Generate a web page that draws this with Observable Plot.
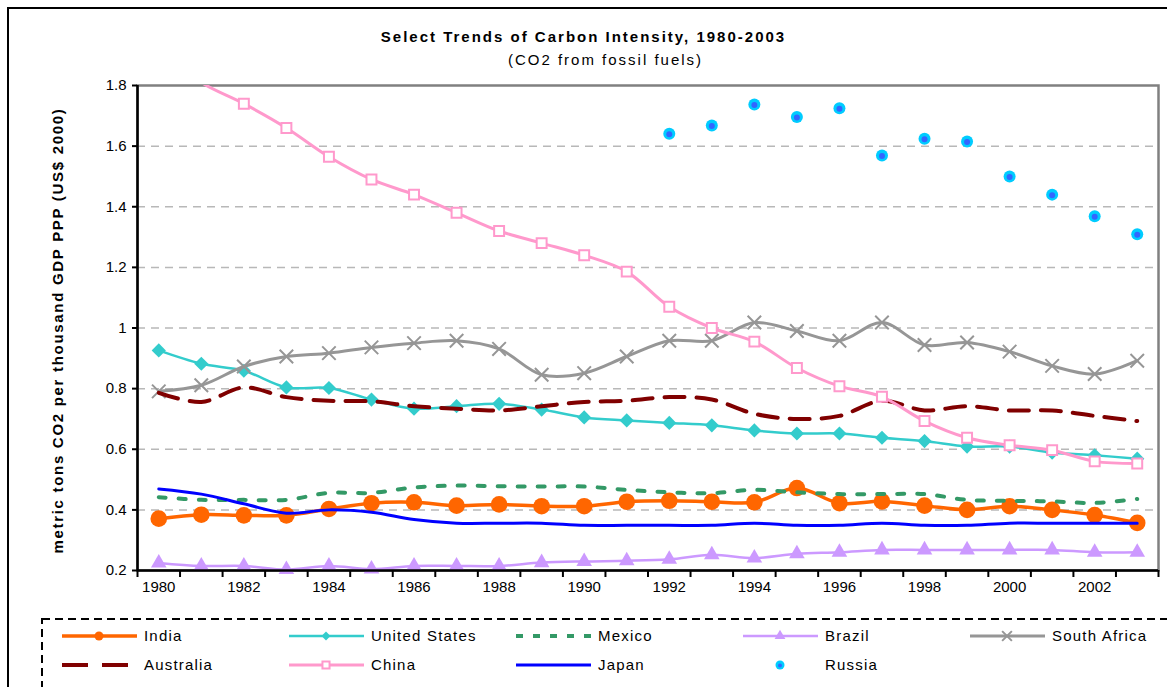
<!DOCTYPE html>
<html><head><meta charset="utf-8">
<script src="https://cdn.jsdelivr.net/npm/d3@7"></script>
<script src="https://cdn.jsdelivr.net/npm/@observablehq/plot@0.6"></script>
<style>
html,body{margin:0;padding:0;background:#fff;}
body{width:1167px;height:687px;overflow:hidden;position:relative;font-family:"Liberation Sans",Arial,sans-serif;color:#000;}
#frame{position:absolute;left:7px;top:7px;width:1300px;height:800px;border:2px solid #000;box-sizing:border-box;}
#title{position:absolute;left:0;width:1167px;top:28px;text-align:center;font-weight:bold;font-size:15px;letter-spacing:2px;}
#subtitle{position:absolute;left:22px;width:1167px;top:51px;text-align:center;font-size:15px;letter-spacing:2px;}
#ylabel{position:absolute;left:-193px;top:322px;width:500px;text-align:center;font-weight:bold;font-size:15px;letter-spacing:1.7px;transform:rotate(-90deg);transform-origin:center;}
#chart{position:absolute;left:0;top:0;}
#legend{position:absolute;left:0;top:600px;}
</style></head><body>
<div id="frame"></div>
<div id="title">Select Trends of Carbon Intensity, 1980-2003</div>
<div id="subtitle">(CO2 from fossil fuels)</div>
<div id="chart"></div>
<div id="ylabel">metric tons CO2 per thousand GDP PPP (US$ 2000)</div>
<div id="legend"></div>
<script>
// ---- data ----
const years = [1980,1981,1982,1983,1984,1985,1986,1987,1988,1989,1990,1991,1992,1993,1994,1995,1996,1997,1998,1999,2000,2001,2002,2003];
const india = [0.371,0.384,0.382,0.382,0.403,0.422,0.425,0.414,0.418,0.412,0.412,0.427,0.430,0.427,0.425,0.472,0.422,0.428,0.414,0.400,0.412,0.400,0.383,0.357];
const unitedStates = [0.926,0.882,0.859,0.804,0.802,0.764,0.734,0.742,0.750,0.731,0.705,0.695,0.687,0.679,0.662,0.652,0.652,0.638,0.627,0.609,0.609,0.589,0.580,0.569];
const mexico = [0.442,0.433,0.433,0.433,0.456,0.456,0.474,0.480,0.478,0.477,0.477,0.466,0.458,0.455,0.466,0.458,0.452,0.452,0.452,0.433,0.430,0.428,0.423,0.436];
const brazil = [0.225,0.215,0.215,0.203,0.215,0.205,0.215,0.215,0.215,0.226,0.230,0.232,0.237,0.252,0.241,0.255,0.260,0.268,0.268,0.268,0.268,0.268,0.260,0.260];
const southAfrica = [0.791,0.811,0.873,0.906,0.917,0.936,0.950,0.958,0.931,0.846,0.851,0.906,0.958,0.958,1.018,0.990,0.958,1.018,0.944,0.952,0.922,0.875,0.848,0.892];
const australia = [0.786,0.756,0.804,0.772,0.760,0.758,0.742,0.734,0.728,0.742,0.756,0.760,0.772,0.764,0.717,0.700,0.710,0.760,0.728,0.742,0.728,0.728,0.710,0.693];
const china = [1.92,1.81,1.74,1.66,1.565,1.49,1.44,1.38,1.32,1.28,1.24,1.186,1.07,1.00,0.955,0.868,0.808,0.773,0.693,0.638,0.613,0.597,0.560,0.553];
const japan = [0.469,0.452,0.420,0.389,0.400,0.392,0.368,0.356,0.356,0.356,0.349,0.349,0.349,0.349,0.356,0.349,0.349,0.356,0.349,0.349,0.356,0.356,0.356,0.356];
const russia = [null,null,null,null,null,null,null,null,null,null,null,null,1.641,1.668,1.737,1.696,1.725,1.569,1.624,1.615,1.500,1.440,1.369,1.309];

const seriesNames = ["India","United States","Mexico","Brazil","South Africa","Australia","China","Japan","Russia"];
const yTicks = [0.2,0.4,0.6,0.8,1.0,1.2,1.4,1.6,1.8];
const xTickLabels = [1980,1982,1984,1986,1988,1990,1992,1994,1996,1998,2000,2002];

// ---- styles ----
const valuesBy = {"India":india,"United States":unitedStates,"Mexico":mexico,"Brazil":brazil,"South Africa":southAfrica,"Australia":australia,"China":china,"Japan":japan,"Russia":russia};
const styles = {
  "India":        {stroke:"#FF6600", sw:3.5, symbol:"circle",   r:8.3, fill:"#FF6600", mstroke:"none", msw:0, lr:4.5},
  "United States":{stroke:"#33CCCC", sw:2.5, symbol:"diamond2", r:6.4, fill:"#33CCCC", mstroke:"none", msw:0, lr:4},
  "Mexico":       {stroke:"#339966", sw:4,   dash:"7,13"},
  "Brazil":       {stroke:"#CC99FF", sw:2.5, symbol:"triangle", r:5.8, fill:"#CC99FF", mstroke:"none", msw:0, lr:4},
  "South Africa": {stroke:"#969696", sw:3,   symbol:"times",    r:6.2, fill:"none",    mstroke:"#969696", msw:2, lr:4.5},
  "Australia":    {stroke:"#800000", sw:4,   dash:"20,12"},
  "China":        {stroke:"#FF99CC", sw:3,   symbol:"square",   r:5.6, fill:"#FFFFFF", mstroke:"#FF99CC", msw:2, lr:4, clip:true},
  "Japan":        {stroke:"#0000FF", sw:3},
  "Russia":       {noLine:true, russia:true}
};

const rows = seriesNames.flatMap(name => years.map((year,i) => ({series:name, year, value:valuesBy[name][i]}))).filter(d => d.value != null);
const yDomain = [yTicks[0], yTicks[yTicks.length-1]];
const xDomain = [years[0]-0.5, years[years.length-1]+0.5];
const boundaries = years.map(y => y-0.5).concat([years[years.length-1]+0.5]);

const marks = [
  Plot.gridY({ticks: yTicks.slice(1,-1), stroke:"#B8B8B8", strokeOpacity:1, strokeWidth:1.5, strokeDasharray:"8,6"}),
  Plot.frame({stroke:"#808080", strokeWidth:2.5})
];
for (const name of seriesNames) {
  const s = styles[name];
  const data = rows.filter(d => d.series === name);
  if (!s.noLine) {
    marks.push(Plot.line(data, {x:"year", y:"value", stroke:s.stroke, strokeWidth:s.sw, strokeDasharray:s.dash, curve:"catmull-rom", clip:!!s.clip}));
  }
  if (s.symbol) {
    marks.push(Plot.dot(data.filter(d => d.value <= yDomain[1]), {x:"year", y:"value", symbol:s.symbol, r:s.r, fill:s.fill, stroke:s.mstroke, strokeWidth:s.msw}));
  }
  if (s.russia) {
    marks.push(Plot.dot(data, {x:"year", y:"value", r:6, fill:"#00CCFF", stroke:"none"}));
    marks.push(Plot.dot(data, {x:"year", y:"value", r:3, fill:"#3366FF", stroke:"none", dy:0.5}));
  }
}
marks.push(
  Plot.ruleY([yDomain[0]], {stroke:"#000", strokeWidth:2.5}),
  Plot.ruleX([xDomain[0]], {stroke:"#000", strokeWidth:2.5}),
  Plot.axisY({ticks:yTicks, tickFormat:d => String(d), tickSize:5, tickPadding:6, fontSize:15, label:null, strokeWidth:2}),
  Plot.axisX({ticks:xTickLabels, tickFormat:d => String(d), tickSize:0, tickPadding:11, fontSize:15, label:null}),
  Plot.axisX({ticks:boundaries, tickFormat:() => "", tickSize:7, label:null, strokeWidth:2})
);

const chart = Plot.plot({
  width:1167, height:610,
  marginTop:85, marginBottom:40, marginLeft:137, marginRight:9,
  x:{type:"linear", domain:xDomain},
  y:{type:"linear", domain:yDomain},
  style:{fontFamily:'"Liberation Sans", Arial, sans-serif', fontSize:"15px", background:"transparent", overflow:"visible", color:"#000"},
  marks
});
document.getElementById("chart").appendChild(chart);

// ---- legend ----
const lg = d3.select("#legend").append("svg").attr("width",1167).attr("height",87)
  .style("font-family",'"Liberation Sans", Arial, sans-serif').style("overflow","visible");
lg.append("rect").attr("x",42).attr("y",19).attr("width",1200).attr("height",200)
  .attr("fill","none").attr("stroke","#000").attr("stroke-width",2).attr("stroke-dasharray","8,5");
const cols = 5, colW = 227, x0 = 62, rowY = [36, 65];
seriesNames.forEach((name, i) => {
  const s = styles[name];
  const cx = x0 + (i % cols) * colW, cy = rowY[Math.floor(i / cols)];
  const g = lg.append("g");
  if (!s.noLine) {
    g.append("line").attr("x1", cx).attr("x2", cx + (s.dash && s.dash.startsWith("20") ? 66 : 75)).attr("y1", cy).attr("y2", cy)
      .attr("stroke", s.stroke).attr("stroke-width", s.sw).attr("stroke-dasharray", s.dash ? (s.dash.startsWith("20") ? "26,14" : "7,10") : null);
  }
  if (s.symbol) {
    const type = {circle:d3.symbolCircle, diamond2:d3.symbolDiamond2, triangle:d3.symbolTriangle, times:d3.symbolTimes, square:d3.symbolSquare}[s.symbol];
    g.append("path").attr("transform", `translate(${cx + 37},${cy})`)
      .attr("d", d3.symbol(type, Math.PI * s.lr * s.lr)())
      .attr("fill", s.fill).attr("stroke", s.mstroke).attr("stroke-width", s.msw);
  }
  if (s.russia) {
    g.append("circle").attr("cx", cx + 37).attr("cy", cy).attr("r", 4.5).attr("fill", "#00CCFF");
    g.append("circle").attr("cx", cx + 37).attr("cy", cy + 0.5).attr("r", 2).attr("fill", "#3366FF");
  }
  g.append("text").attr("x", cx + 82).attr("y", cy).attr("dy", "0.35em").attr("font-size", 15)
    .attr("letter-spacing", "1.2px").text(name);
});
</script>
</body></html>
